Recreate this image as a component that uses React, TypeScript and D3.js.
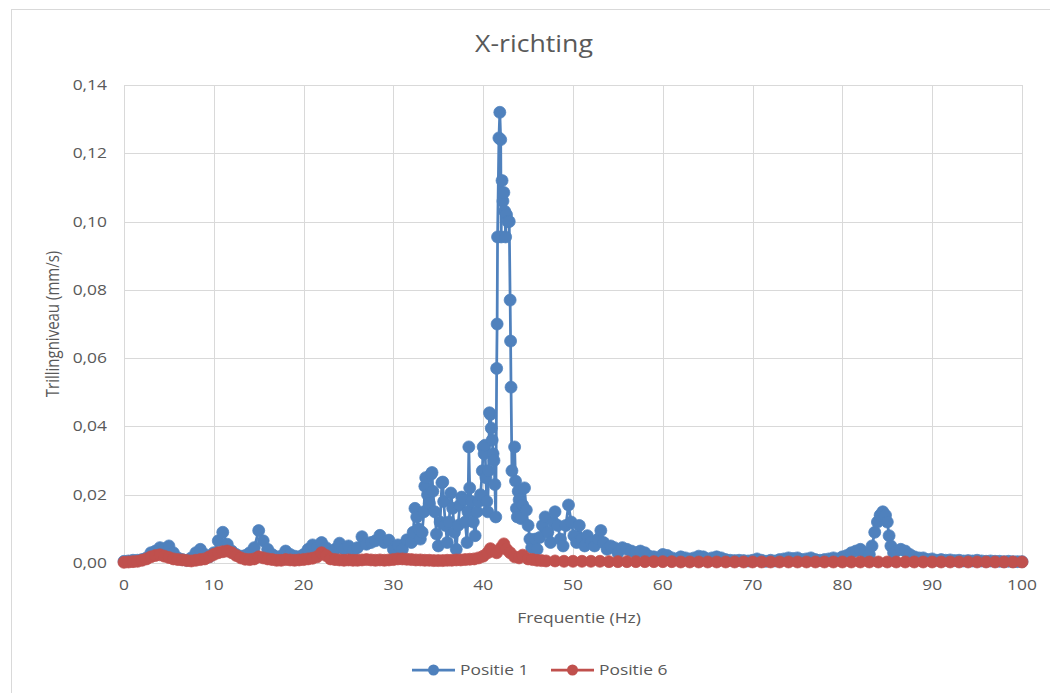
import React from "react";
import * as d3 from "d3";

const TITLE = "X-richting";
const X_LABEL = "Frequentie (Hz)";
const Y_LABEL = "Trillingniveau (mm/s)";
const SERIES_NAMES = ["Positie 1", "Positie 6"];
const X_TICKS = [0, 10, 20, 30, 40, 50, 60, 70, 80, 90, 100];
const Y_TICKS = [0, 0.02, 0.04, 0.06, 0.08, 0.1, 0.12, 0.14];

// Positie 1 : [frequency (Hz), level (mm/s)]
const positie1Low: [number, number][] = [
  [0, 0.0005], [0.5, 0.0006], [1, 0.0008], [1.5, 0.0008], [2, 0.001], [2.5, 0.0015], [3, 0.003], [3.5, 0.0035],
  [4, 0.0045], [4.5, 0.0042], [5, 0.005], [5.5, 0.003], [6, 0.0015], [6.5, 0.001], [7, 0.0008], [7.5, 0.0015],
  [8, 0.003], [8.5, 0.004], [9, 0.0025], [9.5, 0.0018], [10, 0.003], [10.5, 0.0065], [11, 0.009], [11.5, 0.0055],
  [12, 0.0035], [12.5, 0.0025], [13, 0.002], [13.5, 0.0022], [14, 0.003], [14.5, 0.0045], [15, 0.0095], [15.5, 0.0065],
  [16, 0.004], [16.5, 0.0025], [17, 0.0018], [17.5, 0.002], [18, 0.0035], [18.5, 0.0025], [19, 0.002], [19.5, 0.0018],
  [20, 0.0025], [20.5, 0.004], [21, 0.0053], [21.5, 0.0045], [22, 0.006], [22.5, 0.0045], [23, 0.003], [23.5, 0.004],
  [24, 0.0058], [24.5, 0.004], [25, 0.005], [25.5, 0.0035], [26, 0.0045], [26.5, 0.0077], [27, 0.0055], [27.5, 0.006],
  [28, 0.0065], [28.5, 0.0081], [29, 0.006], [29.5, 0.0067], [30, 0.004], [30.5, 0.0053], [31, 0.004], [31.5, 0.0068],
];

const positie1Mid: [number, number][] = [
  [32, 0.006], [32.2, 0.009], [32.4, 0.016], [32.6, 0.0135], [32.8, 0.01], [33, 0.007], [33.2, 0.009], [33.4, 0.015],
  [33.5, 0.0225], [33.6, 0.025], [33.8, 0.02], [34, 0.0175], [34.2, 0.026], [34.3, 0.0265], [34.4, 0.021], [34.6, 0.015],
  [34.8, 0.0085], [35, 0.005], [35.2, 0.012], [35.4, 0.0235], [35.5, 0.0237], [35.6, 0.018], [35.8, 0.011], [36, 0.006],
  [36.2, 0.012], [36.4, 0.0205], [36.6, 0.016], [36.8, 0.009], [37, 0.004], [37.2, 0.011], [37.4, 0.017], [37.6, 0.0193],
  [37.8, 0.0185], [38, 0.012], [38.2, 0.006], [38.3, 0.015], [38.4, 0.034], [38.5, 0.022], [38.7, 0.018], [38.9, 0.012],
  [39.1, 0.008], [39.3, 0.015], [39.5, 0.018], [39.7, 0.02], [39.9, 0.027], [40, 0.034], [40.1, 0.032], [40.2, 0.0345],
  [40.3, 0.025], [40.4, 0.018], [40.5, 0.015], [40.6, 0.027], [40.7, 0.044], [40.8, 0.0435], [40.9, 0.0395], [41, 0.036],
  [41.1, 0.032], [41.2, 0.03], [41.3, 0.023], [41.4, 0.0135], [41.5, 0.057], [41.55, 0.07], [41.6, 0.0955], [41.75, 0.1245],
  [41.85, 0.132], [41.95, 0.124], [42, 0.0955], [42.1, 0.112], [42.2, 0.106], [42.3, 0.1085], [42.4, 0.103], [42.5, 0.0955],
  [42.6, 0.102], [42.75, 0.1], [42.9, 0.1], [43, 0.077], [43.05, 0.065], [43.1, 0.0515], [43.2, 0.027], [43.5, 0.034],
  [43.6, 0.024], [43.7, 0.016], [43.8, 0.0135], [43.9, 0.021], [44, 0.0185], [44.2, 0.013], [44.4, 0.017], [44.6, 0.022],
  [44.8, 0.0155], [45, 0.011], [45.2, 0.007], [45.4, 0.0045], [45.6, 0.005], [45.8, 0.007], [46, 0.004], [46.3, 0.0075],
  [46.6, 0.011], [46.9, 0.0135], [47.2, 0.009], [47.5, 0.006], [47.8, 0.012], [48, 0.015], [48.3, 0.011], [48.6, 0.007],
  [48.9, 0.005], [49.2, 0.011], [49.5, 0.017], [49.8, 0.012], [50.1, 0.008], [50.4, 0.006], [50.7, 0.011], [51, 0.007],
  [51.3, 0.005], [51.6, 0.008], [52, 0.006], [52.4, 0.005], [52.8, 0.007], [53.1, 0.0095], [53.4, 0.006], [53.8, 0.004],
  [54.2, 0.005], [54.6, 0.0045],
];

const positie1High: [number, number][] = [
  [55, 0.003], [55.5, 0.0045], [56, 0.004], [56.5, 0.0035], [57, 0.003], [57.5, 0.0035], [58, 0.003], [58.5, 0.002],
  [59, 0.0018], [59.5, 0.0015], [60, 0.0025], [60.5, 0.0022], [61, 0.0015], [61.5, 0.0012], [62, 0.0018], [62.5, 0.0015],
  [63, 0.0012], [63.5, 0.0015], [64, 0.002], [64.5, 0.0018], [65, 0.0012], [65.5, 0.0015], [66, 0.0018], [66.5, 0.0015],
  [67, 0.001], [67.5, 0.0008], [68, 0.0007], [68.5, 0.0008], [69, 0.0007], [69.5, 0.0006], [70, 0.0008], [70.5, 0.0012],
  [71, 0.0008], [71.5, 0.0005], [72, 0.0008], [72.5, 0.0006], [73, 0.001], [73.5, 0.0012], [74, 0.0015], [74.5, 0.0013],
  [75, 0.0015], [75.5, 0.001], [76, 0.0012], [76.5, 0.0015], [77, 0.001], [77.5, 0.0008], [78, 0.001], [78.5, 0.0012],
  [79, 0.0015], [79.5, 0.0012], [80, 0.0018], [80.5, 0.0022], [81, 0.003], [81.5, 0.0035], [82, 0.004], [82.5, 0.003],
  [83, 0.0025], [83.3, 0.005], [83.6, 0.009], [83.9, 0.012], [84.2, 0.014], [84.5, 0.015], [84.8, 0.014], [85, 0.012],
  [85.2, 0.008], [85.4, 0.005], [85.7, 0.003], [86, 0.0035], [86.5, 0.004], [87, 0.0035], [87.5, 0.0025], [88, 0.0018],
  [88.5, 0.0015], [89, 0.0015], [89.5, 0.001], [90, 0.0012], [90.5, 0.0008], [91, 0.001], [91.5, 0.0008], [92, 0.0009],
  [92.5, 0.0007], [93, 0.0008], [93.5, 0.0006], [94, 0.0007], [94.5, 0.0006], [95, 0.0008], [95.5, 0.0006], [96, 0.0005],
  [96.5, 0.0006], [97, 0.0005], [97.5, 0.0005], [98, 0.0004], [98.5, 0.0005], [99, 0.0004], [99.5, 0.0004], [100, 0.0004],
];

// Positie 6 : [frequency (Hz), level (mm/s)]
const positie6: [number, number][] = [
  [0, 0.0002], [0.5, 0.0003], [1, 0.0004], [1.5, 0.0005], [2, 0.0008], [2.5, 0.0012], [3, 0.0018], [3.5, 0.0022],
  [4, 0.0024], [4.5, 0.002], [5, 0.0016], [5.5, 0.0012], [6, 0.001], [6.5, 0.0009], [7, 0.0007], [7.5, 0.0006],
  [8, 0.0008], [8.5, 0.001], [9, 0.0012], [9.5, 0.0018], [10, 0.0025], [10.5, 0.003], [11, 0.0033], [11.5, 0.0035],
  [12, 0.003], [12.5, 0.0022], [13, 0.0015], [13.5, 0.0011], [14, 0.001], [14.5, 0.0012], [15, 0.0018], [15.5, 0.0015],
  [16, 0.0012], [16.5, 0.001], [17, 0.0008], [17.5, 0.0008], [18, 0.001], [18.5, 0.0009], [19, 0.0008], [19.5, 0.0009],
  [20, 0.001], [20.5, 0.0012], [21, 0.0014], [21.5, 0.0018], [22, 0.003], [22.5, 0.0022], [23, 0.0012], [23.5, 0.001],
  [24, 0.0009], [24.5, 0.0008], [25, 0.0009], [25.5, 0.0008], [26, 0.0008], [26.5, 0.0009], [27, 0.001], [27.5, 0.0009],
  [28, 0.0008], [28.5, 0.0009], [29, 0.0008], [29.5, 0.0009], [30, 0.001], [30.5, 0.0012], [31, 0.0012], [31.5, 0.0011],
  [32, 0.001], [32.5, 0.0009], [33, 0.0009], [33.5, 0.0008], [34, 0.0008], [34.5, 0.0007], [35, 0.0007], [35.5, 0.0007],
  [36, 0.0008], [36.5, 0.0008], [37, 0.0009], [37.5, 0.0009], [38, 0.001], [38.5, 0.0011], [39, 0.0012], [39.5, 0.0015],
  [40, 0.002], [40.5, 0.003], [40.8, 0.0042], [41, 0.0035], [41.5, 0.003], [42, 0.0045], [42.3, 0.0056], [42.6, 0.004],
  [43, 0.003], [43.5, 0.0018], [44, 0.0015], [44.4, 0.0023], [45, 0.0012], [45.5, 0.001], [46, 0.0008], [46.5, 0.0007],
  [47, 0.0006], [48, 0.0006], [49, 0.0005], [50, 0.0005], [51, 0.0005], [52, 0.0005], [53, 0.0005], [54, 0.0004],
  [55, 0.0004], [56, 0.0004], [57, 0.0004], [58, 0.0004], [59, 0.0004], [60, 0.0004], [61, 0.0004], [62, 0.0003],
  [63, 0.0003], [64, 0.0003], [65, 0.0003], [66, 0.0003], [67, 0.0003], [68, 0.0003], [69, 0.0003], [70, 0.0003],
  [71, 0.0003], [72, 0.0003], [73, 0.0003], [74, 0.0003], [75, 0.0003], [76, 0.0003], [77, 0.0003], [78, 0.0003],
  [79, 0.0003], [80, 0.0003], [81, 0.0003], [82, 0.0003], [83, 0.0003], [84, 0.0003], [85, 0.0003], [86, 0.0003],
  [87, 0.0003], [88, 0.0003], [89, 0.0003], [90, 0.0003], [91, 0.0003], [92, 0.0003], [93, 0.0003], [94, 0.0003],
  [95, 0.0003], [96, 0.0003], [97, 0.0003], [98, 0.0003], [99, 0.0003], [100, 0.0003],
];

const COLORS = ["#4f81bd", "#c0504d"];
const FONT = "'Open Sans', 'Liberation Sans', sans-serif";
const TEXT_COLOR = "#595959";
const GRID = "#d9d9d9";
const SX = 1.16; // horizontal stretch of the text

type TProps = { x: number; y: number; size: number; anchor?: string; rotate?: number; children: React.ReactNode };
function T({ x, y, size, anchor = "start", rotate = 0, children }: TProps) {
  return (
    <text
      transform={`translate(${x},${y}) scale(${SX},1) rotate(${rotate})`}
      textAnchor={anchor}
      fontFamily={FONT}
      fontSize={size}
      fill={TEXT_COLOR}
    >
      {children}
    </text>
  );
}

export default function App() {
  const W = 1050, H = 693;
  const left = 124, right = 1022, top = 85, bottom = 563;
  const x = d3.scaleLinear().domain([0, 100]).range([left, right]);
  const y = d3.scaleLinear().domain([0, 0.14]).range([bottom, top]);
  const fmt = (v: number) => d3.format(".2f")(v).replace(".", ",");
  const line = d3.line<[number, number]>().x((d) => x(d[0])).y((d) => y(d[1]));
  const series: [number, number][][] = [
    [...positie1Low, ...positie1Mid, ...positie1High],
    positie6,
  ];
  const r = 6;

  return (
    <svg width={W} height={H} style={{ position: "absolute", left: 0, top: 0, background: "#fff" }}>
      <rect x={0} y={0} width={W} height={H} fill="#fff" />
      <rect x={11.5} y={9.5} width={W + 10} height={H + 10} fill="none" stroke={GRID} strokeWidth={1} />
      <T x={534} y={52} size={23} anchor="middle">{TITLE}</T>
      {Y_TICKS.map((t) => (
        <g key={"y" + t}>
          <line x1={left} x2={right} y1={Math.round(y(t)) + 0.5} y2={Math.round(y(t)) + 0.5} stroke={GRID} strokeWidth={1} />
          <T x={107} y={y(t) + 5} size={15} anchor="end">{fmt(t)}</T>
        </g>
      ))}
      {X_TICKS.map((t) => (
        <g key={"x" + t}>
          <line x1={Math.round(x(t)) + 0.5} x2={Math.round(x(t)) + 0.5} y1={top} y2={bottom} stroke={GRID} strokeWidth={1} />
          <T x={x(t)} y={590} size={15} anchor="middle">{t}</T>
        </g>
      ))}
      <T x={(left + right) / 2 + 6} y={623} size={15} anchor="middle">{X_LABEL}</T>
      <T x={59} y={(top + bottom) / 2} size={15} anchor="middle" rotate={-90}>{Y_LABEL}</T>
      {series.map((s, i) => (
        <g key={"s" + i}>
          <path d={line(s) || ""} fill="none" stroke={COLORS[i]} strokeWidth={2.75} strokeLinejoin="round" />
          {s.map((d, j) => (
            <circle key={j} cx={x(d[0])} cy={y(d[1])} r={r} fill={COLORS[i]} stroke={COLORS[i]} strokeWidth={0.75} />
          ))}
        </g>
      ))}
      {SERIES_NAMES.map((name, i) => {
        const lx = 412 + i * 139;
        const ly = 670;
        return (
          <g key={"l" + i}>
            <line x1={lx} x2={lx + 43} y1={ly} y2={ly} stroke={COLORS[i]} strokeWidth={2.75} />
            <circle cx={lx + 21.5} cy={ly} r={5.5} fill={COLORS[i]} />
            <T x={lx + 48} y={ly + 5} size={15}>{name}</T>
          </g>
        );
      })}
    </svg>
  );
}
